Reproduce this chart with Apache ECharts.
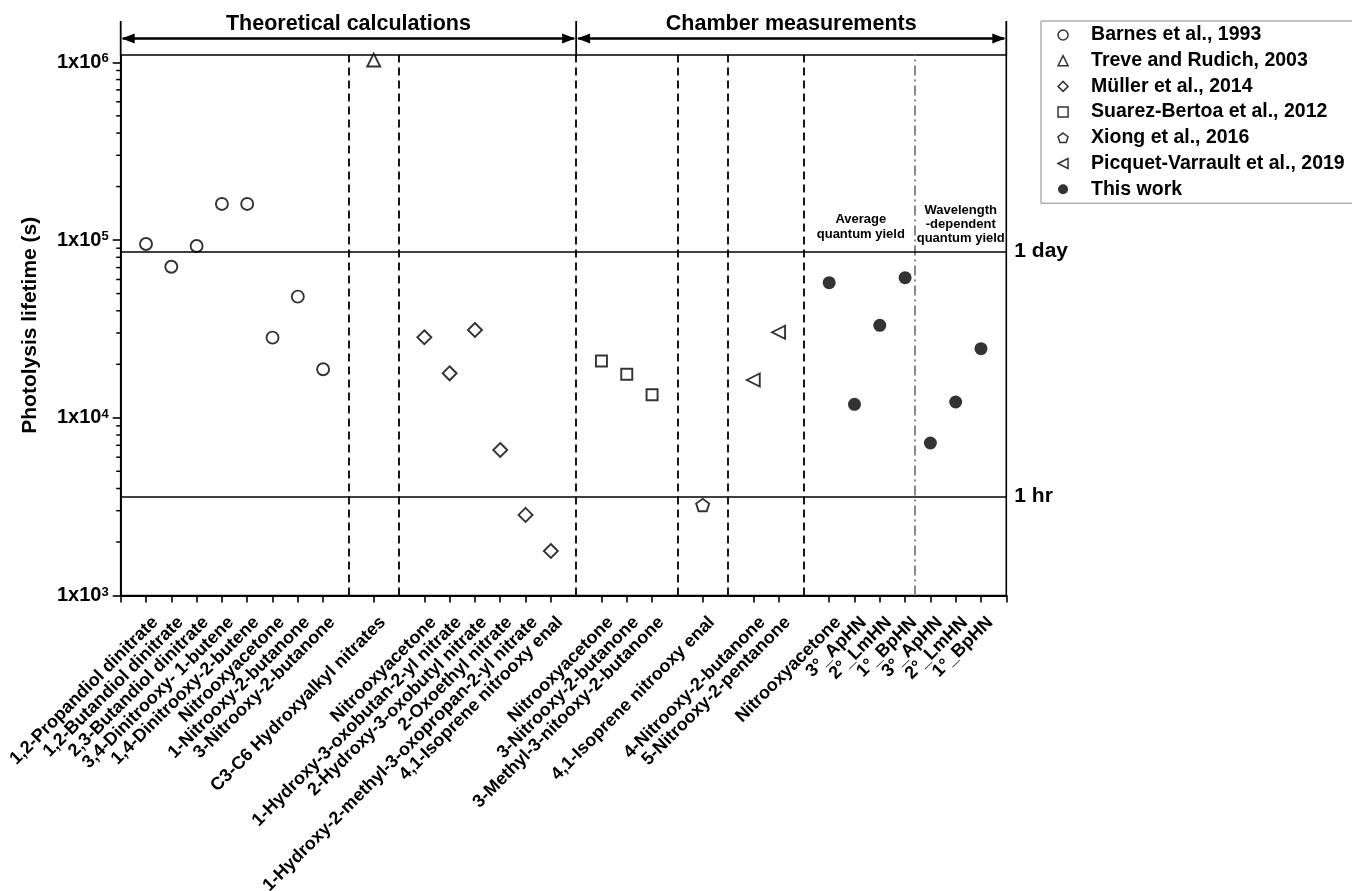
<!DOCTYPE html>
<html>
<head>
<meta charset="utf-8">
<script src="https://cdn.jsdelivr.net/npm/echarts@6/dist/echarts.min.js"></script>
<style>
html,body{margin:0;padding:0;background:#fff;}
#c{width:1352px;height:891px;}
</style>
</head>
<body>
<div id="c"></div>
<script>
// ---------- DATA ----------
const _ = null;
// category slots ('' = empty separator slot)
const categories = ['',
  '1,2-Propandiol dinitrate', '1,2-Butandiol dinitrate', '2,3-Butandiol dinitrate', '3,4-Dinitrooxy- 1-butene',
  '1,4-Dinitrooxy-2-butene', 'Nitrooxyacetone', '1-Nitrooxy-2-butanone', '3-Nitrooxy-2-butanone',
  '',
  'C3-C6 Hydroxyalkyl nitrates',
  '',
  'Nitrooxyacetone', '1-Hydroxy-3-oxobutan-2-yl nitrate', '2-Hydroxy-3-oxobutyl nitrate', '2-Oxoethyl nitrate',
  '1-Hydroxy-2-methyl-3-oxopropan-2-yl nitrate', '4,1-Isoprene nitrooxy enal',
  '',
  'Nitrooxyacetone', '3-Nitrooxy-2-butanone', '3-Methyl-3-nitooxy-2-butanone',
  '',
  '4,1-Isoprene nitrooxy enal',
  '',
  '4-Nitrooxy-2-butanone', '5-Nitrooxy-2-pentanone',
  '',
  'Nitrooxyacetone', '3°_ApHN', '2°_LmHN', '1°_BpHN', '3°_ApHN', '2°_LmHN', '1°_BpHN',
  ''];

// photolysis lifetimes (s), aligned with categories
const barnes   = [_, 95000, 70800, 92600, 159700, 159700, 28240, 48030, 18750, _, _, _, _,_,_,_,_,_, _, _,_,_, _, _, _, _,_, _, _,_,_,_,_,_,_, _];
const treve    = [_, _,_,_,_,_,_,_,_, _, 1030000, _, _,_,_,_,_,_, _, _,_,_, _, _, _, _,_, _, _,_,_,_,_,_,_, _];
const muller   = [_, _,_,_,_,_,_,_,_, _, _, _, 28380, 17800, 31200, 6590, 2840, 1780, _, _,_,_, _, _, _, _,_, _, _,_,_,_,_,_,_, _];
const suarez   = [_, _,_,_,_,_,_,_,_, _, _, _, _,_,_,_,_,_, _, 20870, 17570, 13490, _, _, _, _,_, _, _,_,_,_,_,_,_, _];
const xiong    = [_, _,_,_,_,_,_,_,_, _, _, _, _,_,_,_,_,_, _, _,_,_, _, 3230, _, _,_, _, _,_,_,_,_,_,_, _];
const picquet  = [_, _,_,_,_,_,_,_,_, _, _, _, _,_,_,_,_,_, _, _,_,_, _, _, _, 16320, 30300, _, _,_,_,_,_,_,_, _];
const thisWork = [_, _,_,_,_,_,_,_,_, _, _, _, _,_,_,_,_,_, _, _,_,_, _, _, _, _,_, _, 57550, 11910, 33150, 61420, 7215, 12270, 24480, _];

// separators (category-slot coordinates)
const sectionDividers = [9, 11, 18, 22, 24, 27];
const quantumYieldDivider = 31.4;
const groupBounds = [0, 18, 35];
const groupTitles = ['Theoretical calculations', 'Chamber measurements'];

// reference lifetimes
const refLines = [{name: '1 day', value: 86400}, {name: '1 hr', value: 3600}];

// y axis major tick values
const yMajor = [1000, 10000, 100000, 1000000];

const seriesNames = ['Barnes et al., 1993', 'Treve and Rudich, 2003', 'Müller et al., 2014',
  'Suarez-Bertoa et al., 2012', 'Xiong et al., 2016', 'Picquet-Varrault et al., 2019', 'This work'];

// ---------- CHART ----------
const FONT = "'Liberation Sans', Arial, Helvetica, sans-serif";
const minorTicks = [];
for (let d = 1000; d < 1000000; d *= 10) for (let k = 2; k <= 9; k++) minorTicks.push(k * d);

const openStyle = {color: '#fff', borderColor: '#000', borderWidth: 1.9};
const PENTAGON = 'path://M0,-10L9.51,-3.09L5.88,8.09L-5.88,8.09L-9.51,-3.09Z';
const LEFT_TRI = 'path://M0,5L10,0L10,10Z';

const chart = echarts.init(document.getElementById('c'), null, {renderer: 'canvas'});

const legendData = seriesNames.map((n, i) => i === 5 ? {name: n, icon: LEFT_TRI} : {name: n});

const option = {
  animation: false,
  backgroundColor: '#fff',
  textStyle: {fontFamily: FONT},
  grid: {
    left: 120.7, right: 345.7, top: 55, bottom: 295.5,
    show: true, borderColor: '#000', borderWidth: 1.6, backgroundColor: 'transparent',
    containLabel: false, outerBoundsMode: 'none'
  },
  legend: {
    orient: 'vertical', left: 1041, top: 21,
    data: legendData,
    itemWidth: 10, itemHeight: 10, itemGap: 5.7,
    padding: [4, 12, 4, 16.3],
    borderColor: '#888', borderWidth: 1,
    selectedMode: false,
    itemStyle: {borderWidth: 1.5},
    textStyle: {fontSize: 19.5, fontWeight: 'bold', color: '#000', fontFamily: FONT, lineHeight: 20, padding: [0, 0, 0, 18]}
  },
  xAxis: [{
    type: 'category', data: categories, boundaryGap: false,
    axisLine: {show: true, onZero: false, lineStyle: {color: '#000', width: 1.8}},
    axisTick: {show: true, length: 7, lineStyle: {color: '#000', width: 1.6},
      interval: function (i, v) { return v !== '' || i === 0 || i === categories.length - 1; }},
    axisLabel: {interval: 0, rotate: 45, fontSize: 18, fontWeight: 'bold', color: '#000', fontFamily: FONT,
      margin: 15, align: 'right', verticalAlign: 'top', padding: [4, 0, 0, 0]},
    splitLine: {show: false}
  }, {
    type: 'value', min: 0, max: 35, show: false, position: 'top'
  }],
  yAxis: {
    type: 'log', logBase: 10, min: 1000, max: 1100000,
    name: 'Photolysis lifetime (s)', nameLocation: 'middle', nameGap: 80, nameRotate: 90,
    nameTextStyle: {fontSize: 21, fontWeight: 'bold', color: '#000', fontFamily: FONT},
    axisLine: {show: true, lineStyle: {color: '#000', width: 1.8}},
    axisTick: {show: true, length: 8, lineStyle: {color: '#000', width: 1.6}, customValues: yMajor},
    splitLine: {show: false},
    minorTick: {show: false},
    axisLabel: {
      margin: 12, customValues: yMajor,
      formatter: function (v) {
        const e = Math.log10(v);
        if (Math.abs(e - Math.round(e)) > 1e-6) return '';
        return '{b|1x10}{s|' + Math.round(e) + '}';
      },
      rich: {
        b: {fontSize: 20, fontWeight: 'bold', color: '#000', fontFamily: FONT, verticalAlign: 'bottom', lineHeight: 20},
        s: {fontSize: 13, fontWeight: 'bold', color: '#000', fontFamily: FONT, verticalAlign: 'top', lineHeight: 13, padding: [0, 0, 11, 0]}
      }
    }
  },
  series: [
    {type: 'scatter', name: seriesNames[0], data: barnes, symbol: 'circle', symbolSize: 12, itemStyle: openStyle, z: 4},
    {type: 'scatter', name: seriesNames[1], data: treve, symbol: 'triangle', symbolSize: 13, itemStyle: openStyle, z: 4},
    {type: 'scatter', name: seriesNames[2], data: muller, symbol: 'diamond', symbolSize: 14, itemStyle: openStyle, z: 4},
    {type: 'scatter', name: seriesNames[3], data: suarez, symbol: 'rect', symbolSize: 11, itemStyle: openStyle, z: 4},
    {type: 'scatter', name: seriesNames[4], data: xiong, symbol: PENTAGON, symbolKeepAspect: true, symbolSize: 13, itemStyle: openStyle, z: 4},
    {type: 'scatter', name: seriesNames[5], data: picquet, symbol: 'triangle', symbolRotate: 90, symbolSize: 13, itemStyle: openStyle, z: 4},
    {type: 'scatter', name: seriesNames[6], data: thisWork, symbol: 'circle', symbolSize: 13, itemStyle: {color: '#000', borderWidth: 0}, z: 4},
    {
      type: 'line', name: 'dividers', xAxisIndex: 1, yAxisIndex: 0, data: [], silent: true,
      markLine: {
        symbol: ['none', 'none'], silent: true, label: {show: false},
        lineStyle: {type: [8, 5], color: '#000', width: 1.8},
        data: sectionDividers.map(x => ({xAxis: x})).concat([
          {xAxis: quantumYieldDivider, lineStyle: {type: [10, 4, 2, 4], color: '#888', width: 2}}
        ])
      }
    },
    {
      type: 'line', name: 'reference', data: [], silent: true,
      markLine: {
        symbol: ['none', 'none'], silent: true,
        lineStyle: {type: 'solid', color: '#000', width: 1.6},
        label: {show: true, position: 'end', distance: 8, formatter: p => p.name,
          fontSize: 21, fontWeight: 'bold', color: '#000', fontFamily: FONT},
        data: refLines.map(r => ({name: r.name, yAxis: r.value}))
      }
    },
    {
      type: 'custom', name: 'minorTicks', silent: true, clip: false, z: 5,
      data: minorTicks.map(v => [0, v]),
      renderItem: function (params, api) {
        const p = api.coord([api.value(0), api.value(1)]);
        return {type: 'line', shape: {x1: p[0] - 4.5, y1: p[1], x2: p[0], y2: p[1]},
          style: {stroke: '#000', lineWidth: 1.5}};
      }
    }
  ]
};
chart.setOption(option);

// ---------- header brackets and annotations ----------
const px = v => chart.convertToPixel({xAxisIndex: 1}, v);
const xs = groupBounds.map(px);
const g = [];
const barTop = 21, barBottom = 55, arrowY = 38.5, headL = 13, headH = 5;
xs.forEach(x => g.push({type: 'line', shape: {x1: x, y1: barTop, x2: x, y2: barBottom}, style: {stroke: '#000', lineWidth: 1.8}}));
for (let i = 0; i < 2; i++) {
  const a = xs[i], b = xs[i + 1];
  g.push({type: 'line', shape: {x1: a + 2, y1: arrowY, x2: b - 2, y2: arrowY}, style: {stroke: '#000', lineWidth: 2.6}});
  g.push({type: 'polygon', shape: {points: [[a + 1, arrowY], [a + 1 + headL, arrowY - headH], [a + 1 + headL, arrowY + headH]]}, style: {fill: '#000'}});
  g.push({type: 'polygon', shape: {points: [[b - 1, arrowY], [b - 1 - headL, arrowY - headH], [b - 1 - headL, arrowY + headH]]}, style: {fill: '#000'}});
  g.push({type: 'text', style: {text: groupTitles[i], x: (a + b) / 2, y: 24, align: 'center', verticalAlign: 'middle',
    fontSize: 21.5, fontWeight: 'bold', fontFamily: FONT, fill: '#000'}});
}
g.push({type: 'text', z: 10, style: {text: 'Average\nquantum yield', x: px(29.25), y: 227, align: 'center', verticalAlign: 'middle',
  fontSize: 13, fontWeight: 'bold', fontFamily: FONT, fill: '#000', lineHeight: 15}});
g.push({type: 'text', z: 10, style: {text: 'Wavelength\n-dependent\nquantum yield', x: px(33.2), y: 224, align: 'center', verticalAlign: 'middle',
  fontSize: 13, fontWeight: 'bold', fontFamily: FONT, fill: '#000', lineHeight: 14, backgroundColor: '#fff'}});
chart.setOption({graphic: g});
</script>
</body>
</html>
